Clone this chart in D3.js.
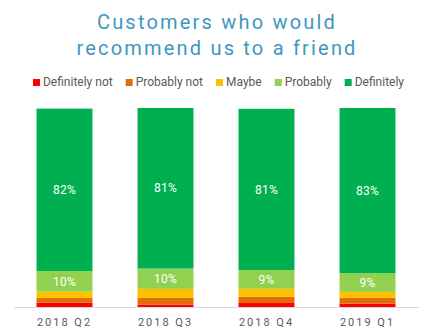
<!DOCTYPE html>
<html>
<head>
<meta charset="utf-8">
<script src="https://cdn.jsdelivr.net/npm/d3@7"></script>
<style>
  html, body { margin: 0; padding: 0; background: #fff; }
  svg { display: block; font-family: Roboto, "Noto Sans", sans-serif; }
</style>
</head>
<body>
<svg id="chart" width="433" height="336"></svg>
<script>
const titleLines = ["Customers who would", "recommend us to a friend"];
const categories = ["2018 Q2", "2018 Q3", "2018 Q4", "2019 Q1"];
const seriesNames = ["Definitely not", "Probably not", "Maybe", "Probably", "Definitely"];
const seriesColors = ["#ff0000", "#e36c09", "#ffc000", "#92d050", "#00b050"];
const definitelyNot = [2.2, 1.2, 2.0, 1.7];
const probablyNot   = [2.3, 3.4, 3.2, 3.0];
const maybe         = [3.2, 4.5, 4.0, 2.9];
const probably      = [10.4, 10.2, 9.4, 9.4];
const definitely    = [81.6, 80.7, 81.0, 83.0];
const labeledSeries = ["Probably", "Definitely"];

const seriesValues = [definitelyNot, probablyNot, maybe, probably, definitely];
const rows = categories.map((c, i) => {
  const r = { cat: c };
  seriesNames.forEach((s, k) => r[s] = seriesValues[k][i]);
  return r;
});

const svg = d3.select("#chart");

// Title
const title = svg.append("text")
  .attr("text-anchor", "middle")
  .attr("fill", "#3e97bf")
  .style("font-size", "20px")
  .style("letter-spacing", "2.2px");
titleLines.forEach((t, i) => {
  title.append("tspan").attr("x", 217).attr("y", 29 + i * 26).text(t);
});

// Scales
const x = d3.scaleBand().domain(categories).range([14, 418]).paddingInner(0.446).paddingOuter(0.223);
const y = d3.scaleLinear().domain([0, 100]).range([307, 108]);

const stack = d3.stack().keys(seriesNames);
const stacked = stack(rows);
const color = d3.scaleOrdinal().domain(seriesNames).range(seriesColors);

const g = svg.append("g");
g.selectAll("g.series").data(stacked).join("g")
  .attr("class", "series")
  .attr("fill", d => color(d.key))
  .selectAll("rect").data(d => d).join("rect")
  .attr("x", d => x(d.data.cat))
  .attr("width", x.bandwidth())
  .attr("y", d => y(d[1]))
  .attr("height", d => y(d[0]) - y(d[1]));

// Labels
stacked.filter(s => labeledSeries.includes(s.key)).forEach(s => {
  g.selectAll(null).data(s).join("text")
    .attr("x", d => x(d.data.cat) + x.bandwidth() / 2)
    .attr("y", d => (y(d[0]) + y(d[1])) / 2)
    .attr("dy", "0.35em")
    .attr("text-anchor", "middle")
    .attr("fill", "#ffffff")
    .style("font-size", "12px")
    .style("letter-spacing", "0.3px")
    .text(d => Math.round(d[1] - d[0]) + "%");
});

// X axis
const xAxis = svg.append("g").attr("transform", "translate(0,307)")
  .call(d3.axisBottom(x).tickSize(0).tickPadding(11));
xAxis.select(".domain").attr("stroke", "#d9d9d9").attr("stroke-width", 1)
  .attr("d", "M14,0.5H419");
xAxis.selectAll("text")
  .attr("fill", "#595959")
  .style("font-size", "11px")
  .style("letter-spacing", "2px")
  .style("font-family", "Roboto, sans-serif");

// Legend
const legend = svg.append("g");
let lx = 0;
const items = seriesNames.map((s) => {
  const it = legend.append("g");
  it.append("rect").attr("x", 0).attr("y", -7).attr("width", 7).attr("height", 7).attr("fill", color(s));
  const t = it.append("text").attr("x", 10).attr("y", 0)
    .attr("fill", "#595959").style("font-size", "12px").text(s);
  const w = 10 + t.node().getComputedTextLength();
  it.attr("transform", `translate(${lx},86)`);
  lx += w + 13;
  return it;
});
const totalW = lx - 13;
legend.attr("transform", `translate(${218.5 - totalW / 2},0)`);
</script>
</body>
</html>
